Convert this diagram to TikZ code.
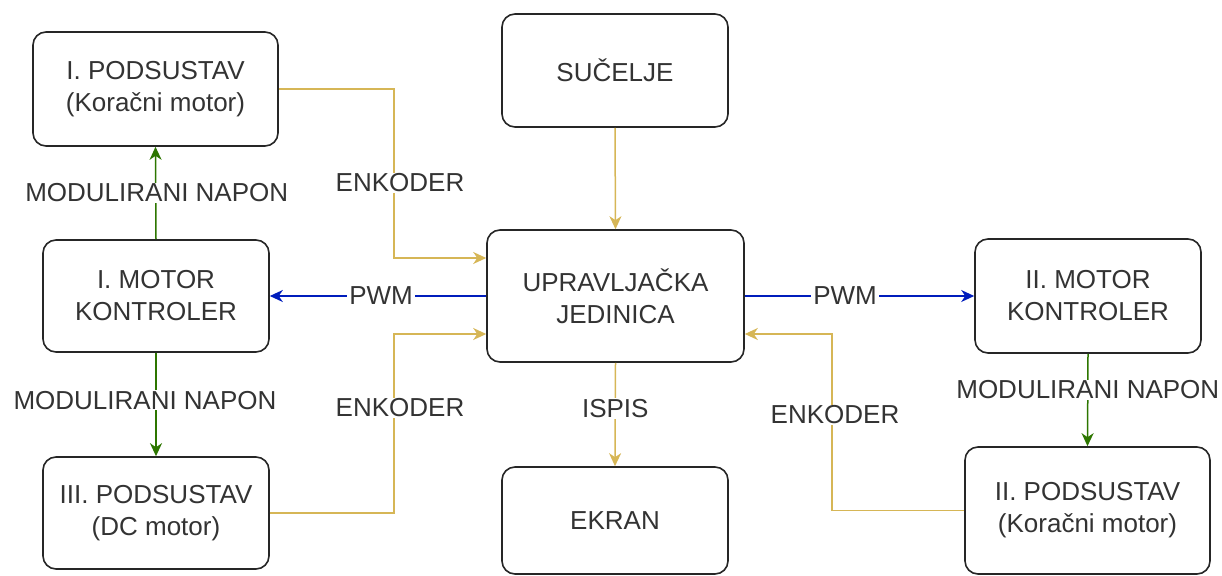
\documentclass[tikz,border=0pt]{standalone}
\usepackage{fontspec}
\setmainfont{Liberation Sans}
\usetikzlibrary{arrows.meta}

\definecolor{boxline}{HTML}{262626}
\definecolor{txt}{HTML}{333333}
\definecolor{enc}{HTML}{D6B656}
\definecolor{pwm}{HTML}{001DBC}
\definecolor{volt}{HTML}{2D7600}

\tikzset{
  block/.style={draw=boxline, line width=1.6pt, rounded corners=13pt, fill=white,
    text=txt, align=center, inner sep=0pt,
    font=\fontsize{26}{32}\selectfont},
  lbl/.style={fill=white, text=txt, inner xsep=2pt, inner ysep=1pt,
    font=\fontsize{26}{32}\selectfont},
  tip/.style={-{Stealth[length=13pt,width=12pt,inset=4pt]}},
  encline/.style={draw=enc, line width=1.5pt, tip},
  pwmline/.style={draw=pwm, line width=1.5pt, tip},
  voltline/.style={draw=volt, line width=1.5pt, tip},
}

\begin{document}
\begin{tikzpicture}[x=1pt, y=-1pt]
\useasboundingbox (0,0) rectangle (1222,575);

% blocks
\node[block, minimum width=245pt, minimum height=114pt] (p1) at (155.5,89) {I. PODSUSTAV\\(Koračni motor)};
\node[block, minimum width=226pt, minimum height=112pt] (m1) at (156,296) {I. MOTOR\\KONTROLER};
\node[block, minimum width=226pt, minimum height=112pt] (p3) at (156,513) {III. PODSUSTAV\\(DC motor)};
\node[block, minimum width=226pt, minimum height=113pt] (suc) at (615,70.5) {SUČELJE};
\node[block, minimum width=257pt, minimum height=132pt] (up) at (615.5,296) {UPRAVLJAČKA\\JEDINICA};
\node[block, minimum width=226pt, minimum height=107pt] (ek) at (615,520.5) {EKRAN};
\node[block, minimum width=226pt, minimum height=114pt] (m2) at (1088,296) {II. MOTOR\\KONTROLER};
\node[block, minimum width=245pt, minimum height=127pt] (p2) at (1087.5,510.5) {II. PODSUSTAV\\(Koračni motor)};

% encoder feedback and interface/display links
\draw[encline] (p1.east) -- ++(115,0) |- ([yshift=38pt]up.west);
\draw[encline] (p3.east) -- ++(124,0) |- ([yshift=-38pt]up.west);
\draw[encline] (p2.west) -- ++(-132,0) |- ([yshift=-38pt]up.east);
\draw[encline] (suc.south) -- (up.north);
\draw[encline] (up.south) -- (ek.north) node[lbl, pos=0.44] {ISPIS};

% PWM outputs
\draw[pwmline] (up.west) -- (m1.east) node[lbl, pos=0.486] {PWM};
\draw[pwmline] (up.east) -- (m2.west) node[lbl, pos=0.437] {PWM};

% modulated supply voltage
\draw[voltline] (m1.north) -- (p1.south) node[lbl, pos=0.5, xshift=1pt] {MODULIRANI NAPON};
\draw[voltline] (m1.south) -- (p3.north) node[lbl, pos=0.457, xshift=-11pt] {MODULIRANI NAPON};
\draw[voltline] (m2.south) -- (p2.north) node[lbl, pos=0.39] {MODULIRANI NAPON};

% encoder labels
\node[lbl] (enc1) at (400,183) {ENKODER};
\node[lbl] (enc3) at (400,408) {ENKODER};
\node[lbl] (enc2) at (835,415) {ENKODER};
\end{tikzpicture}
\end{document}
